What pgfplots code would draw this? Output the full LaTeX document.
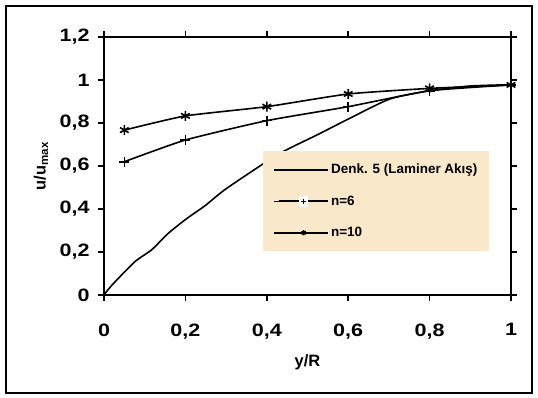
\documentclass[border=0pt]{standalone}
\usepackage{fontspec}
\setmainfont{Liberation Sans}
\usepackage{graphicx}
\usepackage{pgfplots}
\pgfplotsset{compat=1.18}
\definecolor{legbg}{HTML}{FAE8CA}
\pgfplotsset{
  legplain/.style={legend image code/.code={\path (0bp,0bp) -- (54bp,0bp); \draw[##1, line width=2bp] (5bp,0bp) -- (54bp,0bp);}},
  legmarkw/.style={legend image code/.code={\path (0bp,0bp) -- (54bp,0bp); \draw[##1, line width=2bp, mark=none] (5bp,0bp) -- (54bp,0bp);
    \fill[white] (25.5bp,-4.5bp) rectangle (33.5bp,4.5bp);
    \draw[##1, mark size=2.6bp, mark options={line width=1.6bp}] plot coordinates {(29.5bp,0bp)};}},
  legmark/.style={legend image code/.code={\path (0bp,0bp) -- (54bp,0bp); \draw[##1, line width=2bp, mark=none] (5bp,0bp) -- (54bp,0bp);
    \draw[##1, mark size=2.6bp, mark options={line width=1.6bp}] plot coordinates {(29.5bp,0bp)};}},
}
\begin{document}
\begin{tikzpicture}
\useasboundingbox (-104bp,-103bp) rectangle (434bp,295bp);
\draw[line width=2bp] (-98bp,-98bp) rectangle (428bp,289bp);
\begin{axis}[
  at={(0,0)}, anchor=origin,
  scale only axis, width=407bp, height=258bp,
  xmin=0, xmax=1, ymin=0, ymax=1.2,
  xtick={0,0.2,0.4,0.6,0.8,1},
  ytick={0,0.2,0.4,0.6,0.8,1,1.2},
  tick align=outside, major tick length=6bp,
  tick style={black, line width=1.6bp},
  axis line style={line width=2.2bp},
  /pgf/number format/use comma,
  /pgf/number format/assume math mode=true,
  ticklabel style={font=\fontsize{18}{20}\selectfont\bfseries},
  xticklabel={\scalebox{1.2}[1]{\pgfmathprintnumber{\tick}}},
  yticklabel={\scalebox{1.2}[1]{\pgfmathprintnumber{\tick}}},
  xticklabel style={yshift=-19bp},
  yticklabel style={xshift=-5bp},
  xlabel={y/R}, ylabel={u/u\textsubscript{max}},
  label style={font=\fontsize{16.5}{19}\selectfont\bfseries},
  xlabel style={at={(axis description cs:0.5,-0.26)}, anchor=center},
  ylabel style={at={(axis description cs:-0.155,0.5)}, anchor=center},
  legend style={at={(0.391,0.558)}, anchor=north west, fill=legbg, draw=none,
    font=\fontsize{13.5}{16}\selectfont\bfseries, row sep=16.5bp,
    inner xsep=10bp, inner ysep=11bp},
  legend cell align=left,
  clip=false,
]
\addplot[black, line width=1.6bp, smooth, tension=0.4, legplain] coordinates {
 (0,0) (0.02,0.047) (0.076,0.155) (0.117,0.21) (0.158,0.287) (0.203,0.355)
 (0.248,0.415) (0.297,0.49) (0.387,0.605) (0.445,0.672) (0.523,0.744)
 (0.604,0.822) (0.703,0.912) (0.8,0.95) (0.9,0.972) (1,0.978)};
\addlegendentry{Denk. 5 (Laminer Akış)}
\addplot[black, line width=1.6bp, mark=+, mark size=5bp, mark options={line width=1.6bp}, smooth, tension=0.3, legmarkw] coordinates {
 (0.05,0.62) (0.2,0.721) (0.4,0.811) (0.6,0.876) (0.8,0.95) (1,0.977)};
\addlegendentry{n=6}
\addplot[black, line width=1.6bp, mark=asterisk, mark size=5bp, mark options={line width=1.6bp}, smooth, tension=0.3, legmark] coordinates {
 (0.05,0.767) (0.2,0.833) (0.4,0.876) (0.6,0.935) (0.8,0.961) (1,0.977)};
\addlegendentry{n=10}
\end{axis}
\end{tikzpicture}
\end{document}
